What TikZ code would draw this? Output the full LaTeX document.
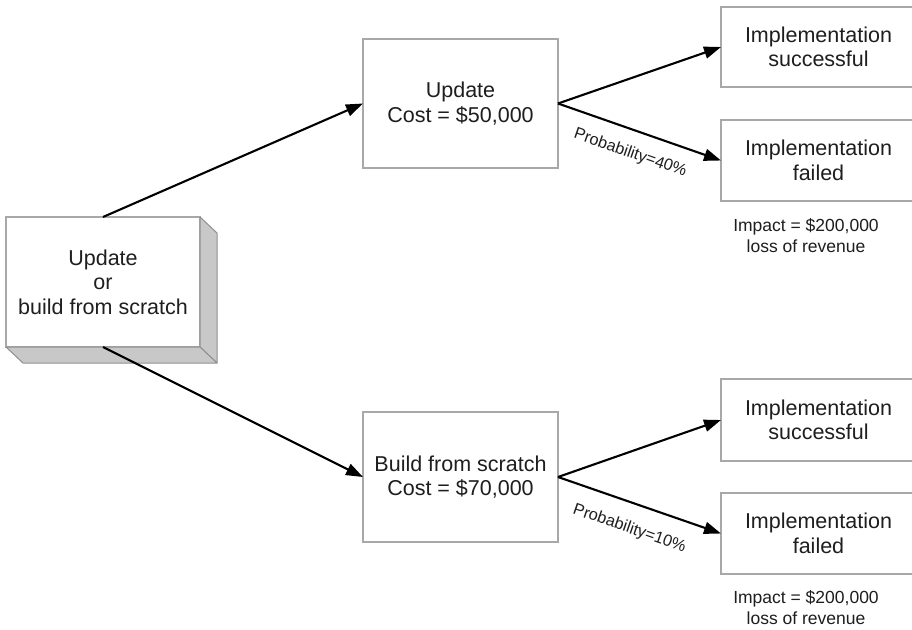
\documentclass[tikz,border=0pt]{standalone}
\usepackage{fontspec}
\setmainfont{Liberation Sans}
\usetikzlibrary{arrows.meta}
\definecolor{boxgray}{HTML}{A8A8A8}
\definecolor{sidegray}{HTML}{C8C8C8}
\definecolor{edgegray}{HTML}{909090}
\definecolor{textc}{HTML}{1E1E1E}
\begin{document}
\begin{tikzpicture}[x=1pt,y=-1pt,
  box/.style={draw=boxgray, line width=1.3pt, fill=white, minimum width=195pt,
    inner sep=0pt, outer sep=0pt, align=center, text=textc,
    font=\fontsize{21.5}{24.5}\selectfont},
  arr/.style={line width=2.1pt, draw=black, -{Triangle[length=17pt,width=12pt]}},
  side/.style={fill=sidegray, draw=edgegray, line width=1pt, line join=round},
  note/.style={align=center, text=textc, inner sep=0pt, font=\fontsize{17.5}{21}\selectfont},
  prob/.style={text=textc, inner sep=0pt, font=\fontsize{16.3}{18}\selectfont, sloped, pos=0.49}]
\useasboundingbox (0,0) rectangle (912,629);
\clip (0,0) rectangle (912,629);
\fill[white] (0,0) rectangle (912,629);

% 3D root box
\node[box, minimum width=194pt, minimum height=130pt] (root) at (103,282)
  {Update\\or\\build from scratch};
\path[side] (root.north east) -- ++(17,16) -- ++(0,130) -- (root.south east) -- cycle;
\path[side] (root.south west) -- (root.south east) -- ++(17,16) -- ++(-194,0) -- cycle;

\node[box, minimum height=129pt] (upd) at (460.5,103.5) {Update\\Cost = \$50,000};
\node[box, minimum height=130pt] (bld) at (460.5,477) {Build from scratch\\Cost = \$70,000};

\node[box, minimum height=80pt] (s1) at (818.5,47) {Implementation\\successful};
\node[box, minimum height=81pt] (f1) at (818.5,160.5) {Implementation\\failed};
\node[box, minimum height=82pt] (s2) at (818.5,420) {Implementation\\successful};
\node[box, minimum height=81pt] (f2) at (818.5,533.5) {Implementation\\failed};

\node[note] (i1) at (806,235.5) {Impact = \$200,000\\loss of revenue};
\node[note] (i2) at (806,607.5) {Impact = \$200,000\\loss of revenue};

\draw[arr] (root.north) -- (upd.west);
\draw[arr] (root.south) -- (bld.west);
\draw[arr] (upd.east) -- (s1.west);
\draw[arr] (upd.east) -- node[prob, below=14.5pt] (p1) {Probability=40\%} (f1.west);
\draw[arr] (bld.east) -- (s2.west);
\draw[arr] (bld.east) -- node[prob, below=17pt] (p2) {Probability=10\%} (f2.west);
\end{tikzpicture}
\end{document}
